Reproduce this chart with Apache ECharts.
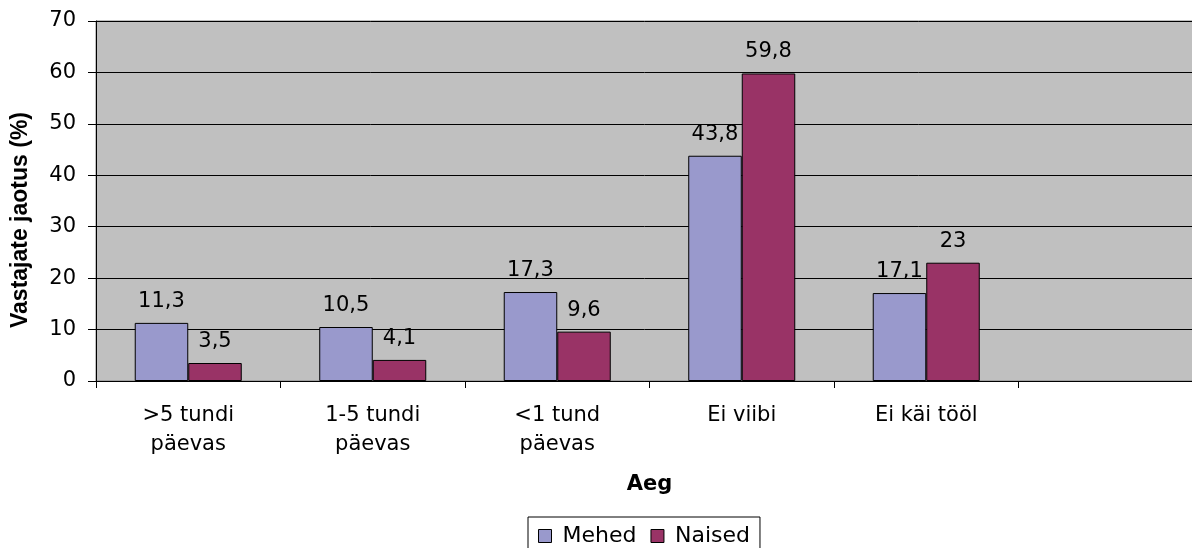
<!DOCTYPE html>
<html>
<head>
<meta charset="utf-8">
<script src="https://cdn.jsdelivr.net/npm/echarts@6/dist/echarts.min.js"></script>
<style>
  html, body { margin: 0; padding: 0; background: #fff; }
  #chart { width: 1192px; height: 548px; }
</style>
</head>
<body>
<div id="chart"></div>
<script>
const categories = ['>5 tundi\npäevas', '1-5 tundi\npäevas', '<1 tund\npäevas', 'Ei viibi', 'Ei käi tööl', ''];
const mehed = [11.3, 10.5, 17.3, 43.8, 17.1, null];
const naised = [3.5, 4.1, 9.6, 59.8, 23, null];

const font = 'DejaVu Sans, Arial, sans-serif';
const fmt = p => String(p.value).replace('.', ',');

const chart = echarts.init(document.getElementById('chart'));
chart.setOption({
  animation: false,
  textStyle: { fontFamily: font },
  grid: {
    left: 96, width: 1107, top: 21, height: 360,
    outerBoundsMode: 'none',
    containLabel: false,
    show: true, backgroundColor: '#C0C0C0', borderColor: '#808080', borderWidth: 1,
  },
  graphic: [{
    type: 'text',
    x: 21, y: 220,
    rotation: Math.PI / 2,
    style: {
      text: 'Vastajate jaotus (%)',
      font: 'bold 23px Liberation Sans, Arial, sans-serif',
      fill: '#000',
      align: 'center',
      verticalAlign: 'middle',
    },
  }],
  legend: {
    top: 517,
    left: 528,
    data: ['Mehed', 'Naised'],
    icon: 'rect',
    itemWidth: 13, itemHeight: 13, itemGap: 14,
    borderColor: '#000', borderWidth: 1,
    padding: [8, 10, 8, 10],
    textStyle: { fontSize: 22, color: '#000', fontFamily: font, padding: [0, 0, 0, 6] },
    itemStyle: { borderColor: '#000', borderWidth: 1 },
  },
  xAxis: {
    type: 'category',
    data: categories,
    name: 'Aeg',
    nameLocation: 'middle',
    nameGap: 93,
    nameTextStyle: { fontSize: 21, fontWeight: 'bold', color: '#000', fontFamily: font },
    axisLine: { lineStyle: { color: '#000', width: 1 } },
    axisTick: { show: true, length: 7, lineStyle: { color: '#000' } },
    axisLabel: { fontSize: 21, color: '#000', lineHeight: 29, margin: 20, interval: 0 },
  },
  yAxis: {
    type: 'value',
    min: 0, max: 70, interval: 10,
    axisLine: { show: true, lineStyle: { color: '#000' } },
    axisTick: { show: true, length: 8, lineStyle: { color: '#000' } },
    axisLabel: { fontSize: 21, color: '#000', margin: 20 },
    splitLine: { lineStyle: { color: '#000', width: 1 } },
  },
  series: [
    {
      name: 'Mehed', type: 'bar', data: mehed,
      barGap: '0%', barCategoryGap: '42%',
      itemStyle: { color: '#9999CC', borderColor: '#000', borderWidth: 1 },
      label: { show: true, position: 'top', distance: 11, fontSize: 21, color: '#000', formatter: fmt },
    },
    {
      name: 'Naised', type: 'bar', data: naised,
      itemStyle: { color: '#993366', borderColor: '#000', borderWidth: 1 },
      label: { show: true, position: 'top', distance: 11, fontSize: 21, color: '#000', formatter: fmt },
    },
  ],
});
</script>
</body>
</html>
